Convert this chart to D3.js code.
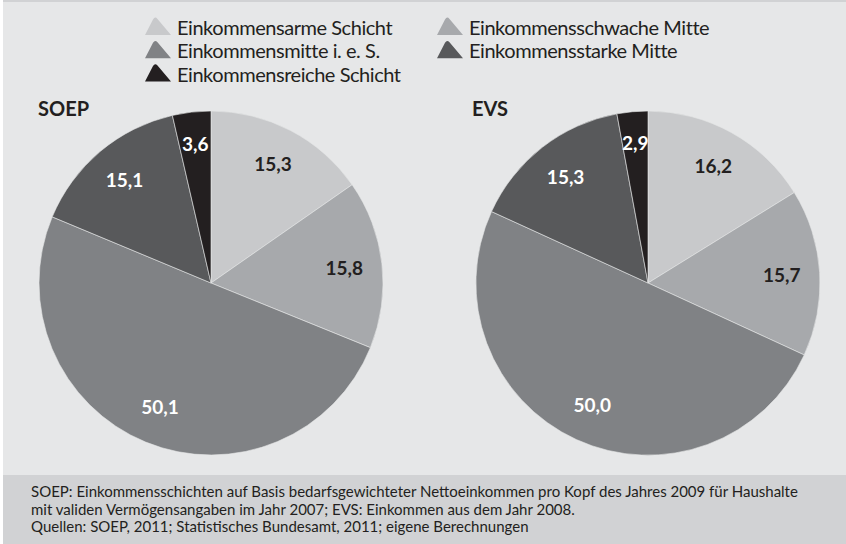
<!DOCTYPE html>
<html><head><meta charset="utf-8">
<script src="https://cdn.jsdelivr.net/npm/d3@7"></script>
<style>
html,body{margin:0;padding:0;background:#fff;}
svg{display:block;}
text{font-family:Lato,"Open Sans",sans-serif;}
</style></head>
<body><svg id="c" width="846" height="544"></svg>
<script>
const categories = ["Einkommensarme Schicht","Einkommensschwache Mitte","Einkommensmitte i. e. S.","Einkommensstarke Mitte","Einkommensreiche Schicht"];
const soepValues = [15.3, 15.8, 50.1, 15.1, 3.6];
const evsValues = [16.2, 15.7, 50.0, 15.3, 2.9];
const pieTitles = ["SOEP","EVS"];
const colors = ["#c8c9cb","#a7a9ac","#808285","#58595b","#231f20"];
const labelColors = ["#231f20","#231f20","#ffffff","#ffffff","#ffffff"];
const footnotes = [
 "SOEP: Einkommensschichten auf Basis bedarfsgewichteter Nettoeinkommen pro Kopf des Jahres 2009 für Haushalte",
 "mit validen Vermögensangaben im Jahr 2007; EVS: Einkommen aus dem Jahr 2008.",
 "Quellen: SOEP, 2011; Statistisches Bundesamt, 2011; eigene Berechnungen"
];

const svg = d3.select("#c");
// backgrounds
svg.append("rect").attr("x",3).attr("y",0).attr("width",843).attr("height",544).attr("fill","#e6e7e8");
svg.append("rect").attr("x",3).attr("y",0).attr("width",843).attr("height",2).attr("fill","#d1d2d4");
svg.append("rect").attr("x",3).attr("y",475).attr("width",843).attr("height",69).attr("fill","#d1d2d4");

// legend
const legendPos = [[145,35],[437,35],[145,58.3],[437,58.3],[145,81.6]];
const tri = "M0,0 L8,-15.5 Q10,-19 12.5,-16 L26,0 Z";
const lg = svg.append("g");
categories.forEach((c,i)=>{
  const g = lg.append("g").attr("transform",`translate(${legendPos[i][0]},${legendPos[i][1]})`);
  g.append("path").attr("d",tri).attr("fill",colors[i]);
  g.append("text").attr("x",32).attr("y",0).attr("font-size",20)
    .attr("letter-spacing","-0.45").attr("fill","#231f20").text(c);
});

const R = 172;
const centers = [[211,283],[648,283]];
const pie = d3.pie().sort(null).value(d=>d);
const arc = d3.arc().innerRadius(0).outerRadius(R);
[soepValues, evsValues].forEach((vals,k)=>{
  const g = svg.append("g").attr("transform",`translate(${centers[k][0]},${centers[k][1]})`);
  const arcs = pie(vals);
  g.selectAll("path").data(arcs).join("path")
    .attr("d",arc).attr("fill",(d,i)=>colors[i])
    .attr("stroke","#e6e7e8").attr("stroke-width",0.6);
  g.selectAll("text.lbl").data(arcs).join("text").attr("class","lbl")
    .each(function(d,i){
      const a = (d.startAngle+d.endAngle)/2;
      const lr = (d.endAngle-d.startAngle) < 0.4 ? 140 : 134;
      d3.select(this).attr("x",Math.sin(a)*lr).attr("y",-Math.cos(a)*lr);
    })
    .attr("text-anchor","middle").attr("dy","0.36em")
    .attr("font-size",19).attr("font-weight","bold")
    .attr("fill",(d,i)=>labelColors[i])
    .text(d=>d3.format(".1f")(d.value).replace(".",","));
  svg.append("text").attr("x",k===0?38:472).attr("y",116)
    .attr("font-size",20).attr("font-weight","bold").attr("fill","#231f20").text(pieTitles[k]);
});

// footnotes
footnotes.forEach((t,i)=>{
  svg.append("text").attr("x",31).attr("y",497+i*17.5).attr("font-size",15).attr("fill","#231f20").text(t);
});
</script></body></html>
